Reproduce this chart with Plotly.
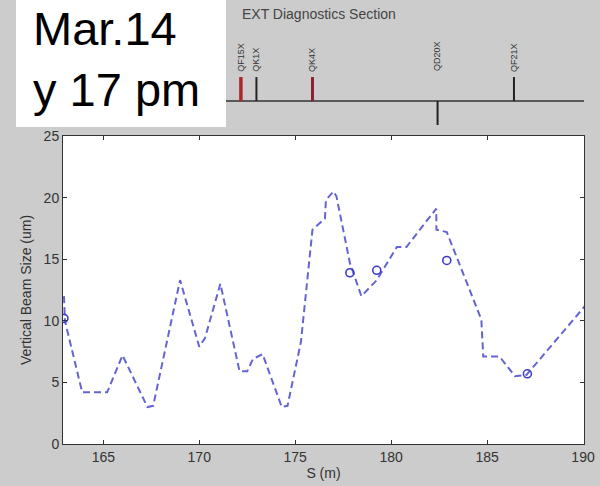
import plotly.graph_objects as go

# Beam size model (dashed line)
s_model = [162.95, 163.0, 163.9, 165.2, 166.0, 167.3, 167.6, 169.0, 170.0, 170.3,
           171.1, 171.95, 172.1, 172.5, 172.8, 173.3, 174.3, 174.6, 175.3, 175.9,
           176.55, 176.6, 177.0, 177.15, 177.85, 178.45, 179.25, 180.3, 180.8,
           182.35, 182.36, 182.9, 184.7, 184.8, 185.65, 186.45, 187.05, 190.1]
v_model = [12.0, 10.0, 4.2, 4.2, 7.2, 3.0, 3.1, 13.3, 7.9, 8.6,
           13.0, 6.8, 5.9, 5.9, 6.9, 7.3, 3.0, 3.1, 8.3, 17.4,
           18.3, 19.8, 20.5, 20.1, 14.7, 12.0, 13.3, 16.0, 16.0,
           19.1, 17.4, 17.2, 10.1, 7.1, 7.1, 5.5, 5.6, 11.2]

# Measured points (circles)
s_meas = [162.95, 177.85, 179.25, 182.9, 187.1]
v_meas = [10.2, 13.9, 14.1, 14.9, 5.7]

# Magnets of the EXT diagnostics section
mag_names = ["QF15X", "QK1X", "QK4X", "QD20X", "QF21X"]
mag_s = [172.17, 172.98, 175.9, 182.42, 186.4]
mag_h = [1.0, 1.0, 1.0, -1.0, 1.0]
mag_col = ["#a82828", "#222222", "#8a2030", "#222222", "#222222"]
mag_w = [3.5, 2, 3, 2, 2]

x_ticks = [165, 170, 175, 180, 185, 190]
y_ticks = [0, 5, 10, 15, 20, 25]
x_range = [162.9, 190.05]

fig = go.Figure()

# beamline axis
fig.add_trace(go.Scatter(x=[x_range[0] - 1, x_range[1] + 1], y=[0, 0], mode="lines",
                         line=dict(color="#333333", width=1.5),
                         xaxis="x", yaxis="y2", showlegend=False, hoverinfo="skip"))
for n, s, h, c, w in zip(mag_names, mag_s, mag_h, mag_col, mag_w):
    fig.add_trace(go.Scatter(x=[s, s], y=[0, h], mode="lines",
                             line=dict(color=c, width=w),
                             xaxis="x", yaxis="y2", showlegend=False, hoverinfo="skip"))
    fig.add_annotation(x=s, y=1.15, xref="x", yref="y2", text=n, textangle=-90,
                       showarrow=False, xanchor="center", yanchor="bottom",
                       font=dict(family="Liberation Sans, Arial", size=9, color="#333333"))

fig.add_trace(go.Scatter(x=s_model, y=v_model, mode="lines",
                         line=dict(color="#6464d2", width=2, dash="7px,4px"),
                         xaxis="x", yaxis="y", showlegend=False))
fig.add_trace(go.Scatter(x=s_meas, y=v_meas, mode="markers",
                         marker=dict(symbol="circle-open", size=8, color="#3c3cc8",
                                     line=dict(width=1.6, color="#3c3cc8")),
                         xaxis="x", yaxis="y", showlegend=False))

axfont = dict(family="Liberation Sans, Arial", size=14, color="#333333")
H = 444.0
fig.update_layout(
    width=600, height=486,
    margin=dict(l=63, r=16, t=0, b=42, autoexpand=False),
    paper_bgcolor="#cccccc",
    plot_bgcolor="white",
    xaxis=dict(range=x_range, tickvals=x_ticks, ticks="inside", ticklen=4,
               tickcolor="#333333", showline=True, linecolor="#333333", linewidth=1,
               mirror="ticks", showgrid=False, zeroline=False, tickfont=axfont,
               automargin=False,
               title=dict(text="S (m)", font=axfont, standoff=4), anchor="y"),
    yaxis=dict(domain=[0, (H - 136) / H], range=[0, 25], tickvals=y_ticks,
               ticks="inside", ticklen=4, tickcolor="#333333", showline=True,
               linecolor="#333333", linewidth=1, mirror="ticks", showgrid=False,
               zeroline=False, tickfont=axfont, automargin=False,
               title=dict(text="Vertical Beam Size (um)", font=axfont, standoff=8)),
    yaxis2=dict(domain=[(H - 126) / H, (H - 30) / H], range=[-1.04, 2.96],
                visible=False, anchor="x", automargin=False),
)

# gray background behind the beamline sketch
fig.add_shape(type="rect", xref="x domain", yref="y2 domain", x0=0, x1=1, y0=0, y1=1,
              fillcolor="#cccccc", line=dict(width=0), layer="below")

# white label box
fig.add_shape(type="rect", xref="paper", yref="paper",
              x0=(16 - 63) / 521, x1=(226 - 63) / 521, y0=(H - 127) / H, y1=1.0,
              fillcolor="white", line=dict(width=0), layer="above")
fig.add_annotation(xref="paper", yref="paper", x=(31 - 63) / 521, y=1.0,
                   xanchor="left", yanchor="top", align="left", showarrow=False,
                   text="Mar.14<br>y 17 pm",
                   font=dict(family="Liberation Sans, Arial", size=47, color="black"))
fig.add_annotation(xref="paper", yref="paper", x=(240 - 63) / 521, y=(H - 14) / H,
                   xanchor="left", yanchor="middle", showarrow=False,
                   text="EXT Diagnostics Section",
                   font=dict(family="Liberation Sans, Arial", size=14, color="#444444"))

fig.write_html("out.html", config={"displayModeBar": False},
               post_script="document.body.style.margin='0';")
